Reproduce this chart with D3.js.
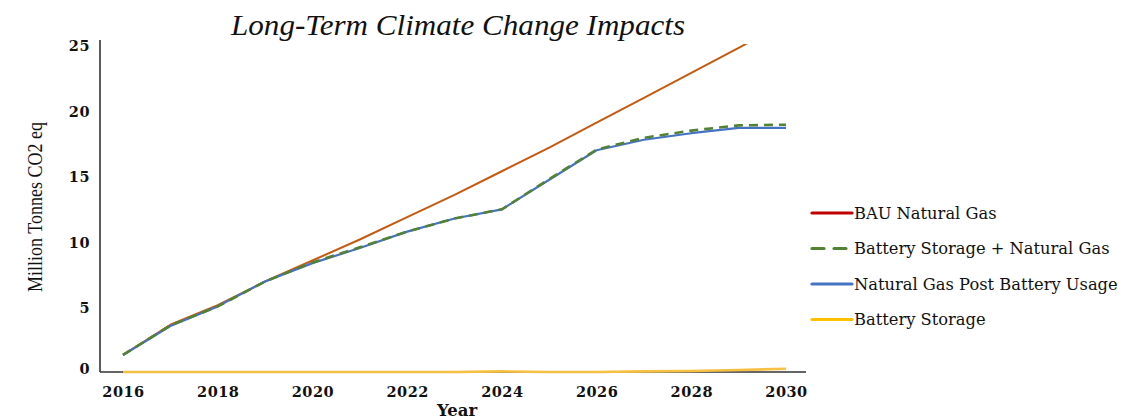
<!DOCTYPE html>
<html>
<head>
<meta charset="utf-8">
<script src="https://cdn.jsdelivr.net/npm/d3@7"></script>
<style>
  html, body { margin: 0; padding: 0; background: #fff; }
  svg { display: block; }
</style>
</head>
<body>
<svg id="chart" width="1124" height="419"></svg>
<script>
// Years on the horizontal axis
const years = [2016, 2017, 2018, 2019, 2020, 2021, 2022, 2023, 2024, 2025, 2026, 2027, 2028, 2029, 2030];

// Emissions, million tonnes CO2 eq
const bauNaturalGas      = [1.3, 3.6, 5.1, 6.9, 8.5, 10.1, 11.8, 13.5, 15.3, 17.1, 19.0, 20.9, 22.8, 24.7, 26.7];
const batteryPlusGas     = [1.3, 3.55, 5.0, 6.9, 8.35, 9.5, 10.7, 11.7, 12.4, 14.7, 16.95, 17.85, 18.4, 18.8, 18.85];
const gasPostBattery     = [1.3, 3.5, 5.0, 6.9, 8.3, 9.45, 10.7, 11.7, 12.4, 14.65, 16.9, 17.7, 18.2, 18.6, 18.6];
const batteryStorage     = [0, 0, 0, 0, 0, 0, 0, 0, 0.05, 0, 0, 0.05, 0.08, 0.15, 0.25];

const yTicks = [0, 5, 10, 15, 20, 25];
const xTicks = [2016, 2018, 2020, 2022, 2024, 2026, 2028, 2030];

const legendItems = [
  { name: "BAU Natural Gas", color: "#C00000", dash: null },
  { name: "Battery Storage + Natural Gas", color: "#548235", dash: "12 10" },
  { name: "Natural Gas Post Battery Usage", color: "#4472C4", dash: null },
  { name: "Battery Storage", color: "#FFC000", dash: null }
];

const svg = d3.select("#chart");

const x = d3.scaleLinear().domain([2016, 2030]).range([123, 786]);
const y = d3.scaleLinear().domain([0, 25]).range([372, 44]);

const serif = "'DejaVu Serif', 'Liberation Serif', serif";

// Title
svg.append("text")
  .attr("x", 458).attr("y", 35)
  .attr("text-anchor", "middle")
  .attr("font-family", "'Liberation Serif', serif")
  .attr("font-style", "italic")
  .attr("font-size", 29)
  .attr("textLength", 454)
  .attr("lengthAdjust", "spacingAndGlyphs")
  .attr("fill", "#111")
  .text("Long-Term Climate Change Impacts");

// Plot clip so the BAU line stops at the top of the axis
svg.append("defs").append("clipPath").attr("id", "plotClip")
  .append("rect").attr("x", 100).attr("y", 44).attr("width", 720).attr("height", 340);

// X axis
const xAxis = svg.append("g")
  .attr("transform", "translate(0,372)")
  .call(d3.axisBottom(x).tickValues(xTicks).tickFormat(d3.format("d")).tickSize(0).tickPadding(15));
xAxis.select(".domain").attr("d", "M100,0H806").attr("stroke", "#333").attr("stroke-width", 1.6);
xAxis.selectAll("text")
  .attr("font-family", serif).attr("font-weight", "bold").attr("font-size", 14.5)
  .attr("letter-spacing", 0.5).attr("fill", "#111");

// Y axis
const yAxis = svg.append("g")
  .attr("transform", "translate(100,0)")
  .call(d3.axisLeft(y).tickValues(yTicks).tickSize(0).tickPadding(10));
yAxis.select(".domain").attr("d", "M0,40V372").attr("stroke", "#333").attr("stroke-width", 1.6);
yAxis.selectAll("text")
  .attr("font-family", serif).attr("font-weight", "bold").attr("font-size", 14.5)
  .attr("letter-spacing", 0.5).attr("fill", "#111").attr("dy", d => d === 0 ? "0.1em" : "0.45em");

// Axis titles
svg.append("text")
  .attr("x", 457).attr("y", 416)
  .attr("text-anchor", "middle")
  .attr("font-family", serif).attr("font-weight", "bold").attr("font-size", 16.5)
  .attr("fill", "#111")
  .text("Year");

svg.append("text")
  .attr("transform", "translate(42,207) rotate(-90)")
  .attr("text-anchor", "middle")
  .attr("font-family", "'Liberation Serif', serif")
  .attr("font-size", 20.5)
  .attr("textLength", 170)
  .attr("lengthAdjust", "spacingAndGlyphs")
  .attr("fill", "#111")
  .text("Million Tonnes CO2 eq");

// Series lines
const line = d3.line().x((d, i) => x(years[i])).y(d => y(d));
const plot = svg.append("g").attr("clip-path", "url(#plotClip)");

const series = [
  { values: bauNaturalGas,  color: "#C55A11", dash: null, width: 2 },
  { values: gasPostBattery, color: "#4472C4", dash: null, width: 2.2 },
  { values: batteryPlusGas, color: "#548235", dash: "9 6", width: 2.6 },
  { values: batteryStorage, color: "#F6C142", dash: null, width: 2.6 }
];

plot.selectAll("path.series")
  .data(series)
  .join("path")
  .attr("class", "series")
  .attr("d", d => line(d.values))
  .attr("fill", "none")
  .attr("stroke", d => d.color)
  .attr("stroke-width", d => d.width)
  .attr("stroke-dasharray", d => d.dash)
  .attr("stroke-linejoin", "round");

// Legend
const legend = svg.append("g").attr("transform", "translate(812,213)");
const rows = legend.selectAll("g")
  .data(legendItems)
  .join("g")
  .attr("transform", (d, i) => `translate(0,${i * 35.5})`);
rows.append("line")
  .attr("x1", 0).attr("x2", 40).attr("y1", 0).attr("y2", 0)
  .attr("stroke", d => d.color)
  .attr("stroke-width", 3.2)
  .attr("stroke-linecap", "round")
  .attr("stroke-dasharray", d => d.dash);
rows.append("text")
  .attr("x", 42).attr("y", 0).attr("dy", "0.35em")
  .attr("font-family", serif).attr("font-size", 16.3)
  .attr("fill", "#111")
  .text(d => d.name);
</script>
</body>
</html>
